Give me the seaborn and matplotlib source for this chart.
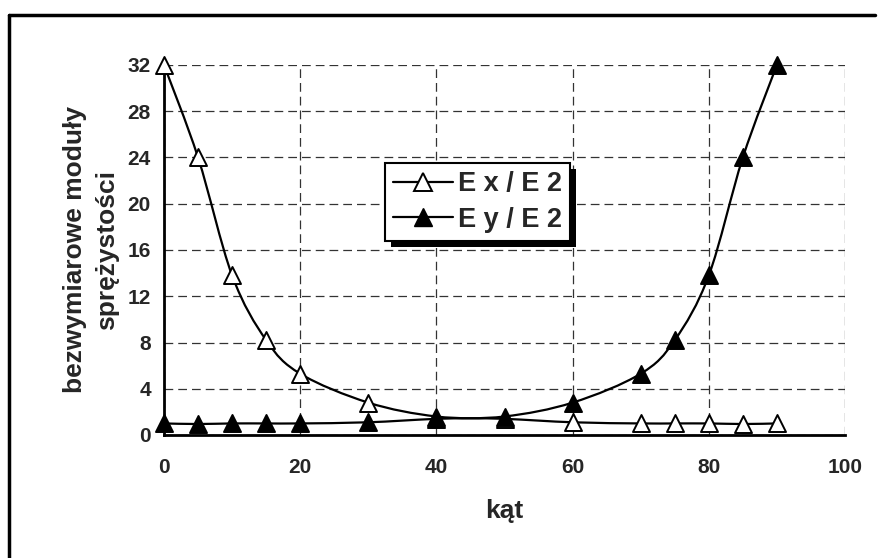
import numpy as np
import pandas as pd
import matplotlib
matplotlib.use("Agg")
import matplotlib.pyplot as plt
import seaborn as sns
from matplotlib.path import Path
from matplotlib.patches import PathPatch, Rectangle
from matplotlib.lines import Line2D
from matplotlib.transforms import IdentityTransform

# kat [deg]
angle = [0, 5, 10, 15, 20, 30, 40, 50, 60, 70, 75, 80, 85, 90]
ex_e2 = [32.0, 24.0, 13.8, 8.2, 5.3, 2.8, 1.6, 1.4, 1.1, 1.0, 1.0, 1.0, 0.95, 1.0]
ey_e2 = [1.0, 0.95, 1.0, 1.0, 1.0, 1.1, 1.4, 1.6, 2.8, 5.3, 8.2, 13.8, 24.0, 32.0]
series_names = ["E x / E 2", "E y / E 2"]
xticks = [0, 20, 40, 60, 80, 100]
yticks = [0, 4, 8, 12, 16, 20, 24, 28, 32]

df = pd.DataFrame({"kat": angle * 2,
                   "val": ex_e2 + ey_e2,
                   "seria": [series_names[0]] * len(angle) + [series_names[1]] * len(angle)})

sns.set_style("white")
plt.rcParams['font.family'] = ['Liberation Sans', 'DejaVu Sans']
plt.rcParams['font.weight'] = 'bold'


def smooth_path(xs, ys):
    # excel-like smoothed line (catmull-rom -> cubic bezier)
    p = np.column_stack([xs, ys]).astype(float)
    verts = [p[0]]
    codes = [Path.MOVETO]
    n = len(p)
    for i in range(n - 1):
        p0 = p[i - 1] if i > 0 else p[i]
        p3 = p[i + 2] if i + 2 < n else p[i + 1]
        c1 = p[i] + (p[i + 1] - p0) / 6.0
        c2 = p[i + 1] - (p3 - p[i]) / 6.0
        verts += [c1, c2, p[i + 1]]
        codes += [Path.CURVE4] * 3
    return Path(verts, codes)


fig = plt.figure(figsize=[8.85, 5.58], dpi=100)
ax = fig.add_axes([164 / 885, 1 - 435 / 558, 681 / 885, 370 / 558])

for ys in (ex_e2, ey_e2):
    ax.add_patch(PathPatch(smooth_path(angle, ys), facecolor='none', edgecolor='black',
                           lw=1.6, zorder=3, clip_on=False))

sub = df[df["seria"] == series_names[0]]
sns.scatterplot(data=sub, x="kat", y="val", marker="^", s=150, facecolor="white",
                edgecolor="black", linewidth=1.4, zorder=4, clip_on=False, ax=ax, legend=False)
sub = df[df["seria"] == series_names[1]]
sns.scatterplot(data=sub, x="kat", y="val", marker="^", s=150, color="black",
                edgecolor="black", linewidth=1.4, zorder=4, clip_on=False, ax=ax, legend=False)

ax.set_xlim(0, 100)
ax.set_ylim(0, 32)
ax.set_xticks(xticks)
ax.set_yticks(yticks)
ax.grid(True, color='#333333', linestyle=(0, (7, 4)), linewidth=0.9)
for s in ["top", "right"]:
    ax.spines[s].set_visible(False)
for s in ["left", "bottom"]:
    ax.spines[s].set_linewidth(2)
    ax.spines[s].set_color("black")
    ax.spines[s].set_zorder(3.5)
ax.tick_params(axis='x', direction='inout', length=11, width=2, pad=11, labelsize=15)
ax.tick_params(axis='y', direction='inout', length=11, width=2, pad=4, labelsize=15)
for lab in ax.get_xticklabels() + ax.get_yticklabels():
    lab.set_fontweight('bold')

ax.set_xlabel("kąt", fontsize=19, fontweight='bold', labelpad=16)
ax.set_ylabel("bezwymiarowe moduły\nsprężystości", fontsize=19, fontweight='bold',
              labelpad=6, linespacing=1.45)

handles = [Line2D([], [], color='black', lw=1.6, marker='^', markersize=13,
                  markerfacecolor='white', markeredgecolor='black', markeredgewidth=1.4),
           Line2D([], [], color='black', lw=1.6, marker='^', markersize=13,
                  markerfacecolor='black', markeredgecolor='black')]
leg = ax.legend(handles, series_names, loc='upper left', bbox_to_anchor=(0.3245, 0.735),
                borderaxespad=0, fancybox=False, framealpha=1, edgecolor='black',
                prop={'size': 19.5, 'weight': 'bold'}, handlelength=2.2, handletextpad=0.2,
                borderpad=0.3, labelspacing=0.35)
leg.get_frame().set_linewidth(1.5)
leg.set_zorder(6)

# legend drop shadow
fig.canvas.draw()
bb = leg.get_window_extent()
ax.add_patch(Rectangle((bb.x0 + 6, bb.y0 - 6), bb.width, bb.height, transform=IdentityTransform(),
                       facecolor='black', edgecolor='none', zorder=5.5, clip_on=False))

# chart area border (top and left visible)
fig.add_artist(Line2D([9 / 885, 9 / 885], [1 - 15 / 558, 0], color='black', lw=2.5,
                      transform=fig.transFigure))
fig.add_artist(Line2D([9 / 885, 875 / 885], [1 - 15 / 558, 1 - 15 / 558], color='black', lw=2.5,
                      transform=fig.transFigure))

fig.savefig("out.png", dpi=100)
